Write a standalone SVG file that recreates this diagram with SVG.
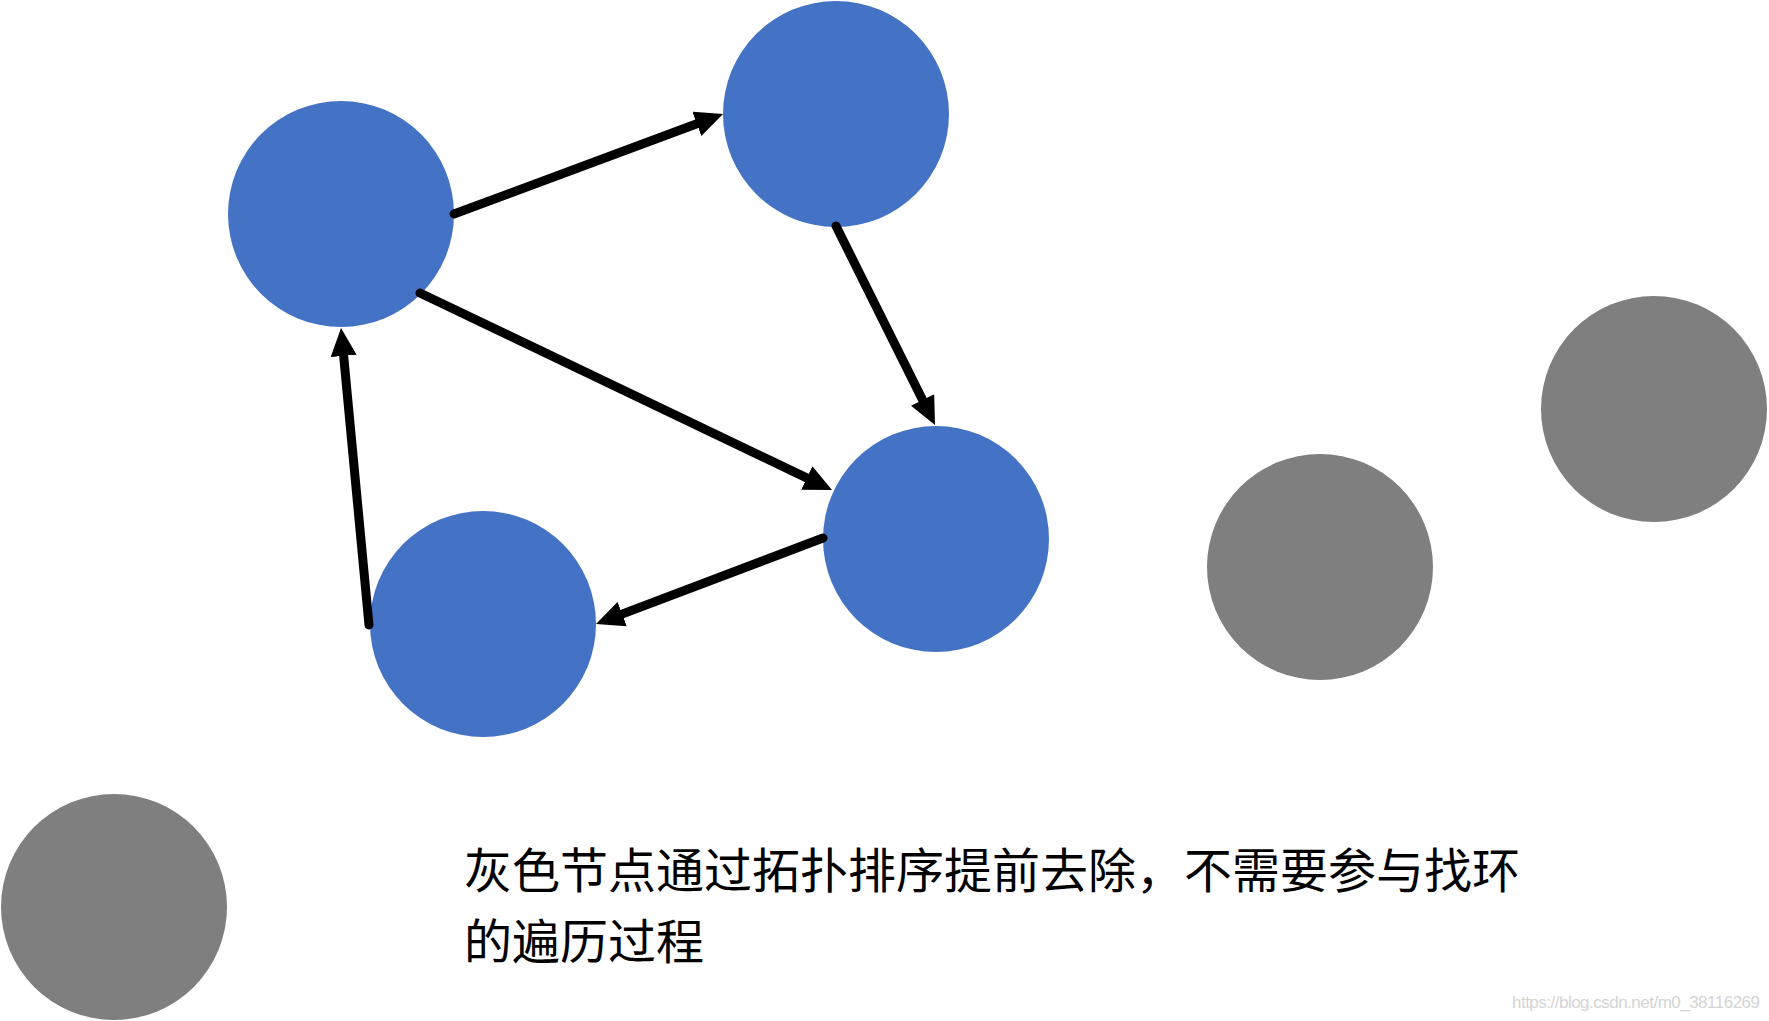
<svg xmlns="http://www.w3.org/2000/svg" width="1769" height="1021" viewBox="0 0 1769 1021">
<style>
.blue{fill:#4472C4}
.gray{fill:#7F7F7F}
.edge{stroke:#000;stroke-width:9;stroke-linecap:round;fill:none;marker-end:url(#ah)}
.cap{font-family:"Noto Sans CJK SC","Noto Sans",sans-serif;font-size:48px;fill:#000}
.wm{font-family:"Liberation Sans",Arial,sans-serif;font-size:17px;fill:#d4d4d4}
</style>
<defs>
<marker id="ah" markerUnits="userSpaceOnUse" markerWidth="28" markerHeight="26" refX="8" refY="13" orient="auto">
<path d="M0,0 L28,13 L0,26 Z" fill="#000"/>
</marker>
</defs>
<rect width="1769" height="1021" fill="#fff"/>
<g id="node-a"><circle class="blue" cx="341" cy="214" r="113"/></g>
<g id="node-b"><circle class="blue" cx="836" cy="114" r="113"/></g>
<g id="node-c"><circle class="blue" cx="936" cy="539" r="113"/></g>
<g id="node-d"><circle class="blue" cx="483" cy="624" r="113"/></g>
<g id="node-g1"><circle class="gray" cx="1320" cy="567" r="113"/></g>
<g id="node-g2"><circle class="gray" cx="1654" cy="409" r="113"/></g>
<g id="node-g3"><circle class="gray" cx="114" cy="907" r="113"/></g>
<g id="connectors">
<line class="edge" x1="454" y1="214" x2="704.3" y2="121"/>
<line class="edge" x1="836" y1="226" x2="926.1" y2="407.1"/>
<line class="edge" x1="420" y1="293" x2="814" y2="481.4"/>
<line class="edge" x1="823" y1="538" x2="614.7" y2="616.9"/>
<line class="edge" x1="369" y1="625" x2="342.9" y2="347.9"/>
</g>
<g id="caption">
<text class="cap" x="464" y="888">灰色节点通过拓扑排序提前去除，不需要参与找环</text>
<text class="cap" x="464" y="959">的遍历过程</text>
</g>
<text class="wm" x="1512" y="1008" textLength="248">https://blog.csdn.net/m0_38116269</text>
</svg>
